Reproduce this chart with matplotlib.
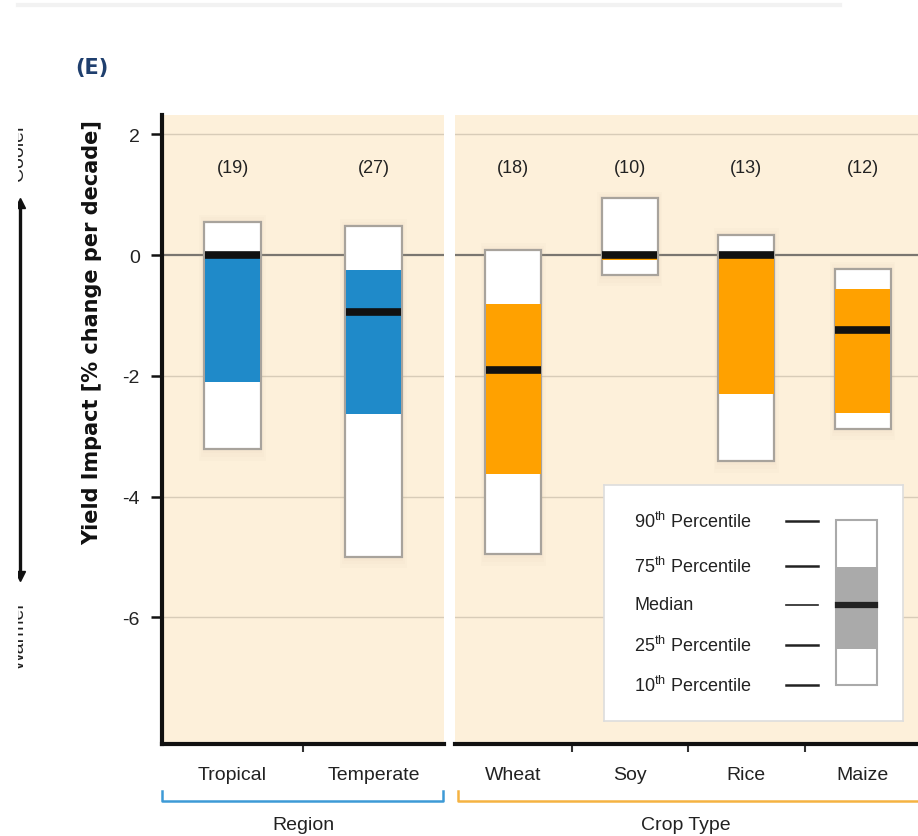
import matplotlib
matplotlib.use('Agg')
import matplotlib.pyplot as plt
from matplotlib.patches import Rectangle
from matplotlib.transforms import Bbox

plt.rcParams['font.family'] = ['Liberation Sans', 'DejaVu Sans']
plt.rcParams['mathtext.fontset'] = 'custom'
plt.rcParams['mathtext.rm'] = 'Liberation Sans'

# region panel
region_names = ['Tropical', 'Temperate']
region_counts = [19, 27]
region_p10 = [-3.22, -5.0]
region_p25 = [-2.1, -2.64]
region_med = [0.0, -0.94]
region_p75 = [-0.03, -0.25]
region_p90 = [0.55, 0.48]

# crop panel
crop_names = ['Wheat', 'Soy', 'Rice', 'Maize']
crop_counts = [18, 10, 13, 12]
crop_p10 = [-4.96, -0.33, -3.42, -2.88]
crop_p25 = [-3.62, -0.09, -2.3, -2.61]
crop_med = [-1.9, 0.0, 0.0, -1.24]
crop_p75 = [-0.81, -0.03, -0.03, -0.56]
crop_p90 = [0.08, 0.94, 0.33, -0.23]

yticks = [2, 0, -2, -4, -6]

BG = '#fdf0da'
BLUE = '#1f8ac9'
ORANGE = '#ffa100'
W, H = 918, 837


def px_axes(fig, x0, x1, ytop, ybot):
    return fig.add_axes([x0 / W, (H - ybot) / H, (x1 - x0) / W, (ybot - ytop) / H])


def draw_panel(ax, names, counts, p10, p25, med, p75, p90, color, bw):
    n = len(names)
    ax.set_facecolor(BG)
    ax.set_xlim(-0.5, n - 0.5)
    ax.set_ylim(-8.1, 2.32)
    for y in yticks:
        if y == 0:
            ax.axhline(0, color='#7a7670', lw=1.6, zorder=1)
        else:
            ax.axhline(y, color='#d8ccb8', lw=1.0, zorder=1)
    for i in range(n):
        # soft glow behind each box
        for k in range(3):
            pad = 0.025 * (k + 1)
            ax.add_patch(Rectangle((i - bw / 2 - pad * 0.5, p10[i] - pad * 2.5),
                                   bw + pad, p90[i] - p10[i] + pad * 4,
                                   facecolor='#c8b493', edgecolor='none', alpha=0.04, zorder=2))
        ax.add_patch(Rectangle((i - bw / 2, p10[i]), bw, p90[i] - p10[i],
                               facecolor='white', edgecolor='#a8a39c', lw=1.6, zorder=3))
        ax.add_patch(Rectangle((i - bw / 2 + 0.005, p25[i]), bw - 0.01, p75[i] - p25[i],
                               facecolor=color, edgecolor='none', zorder=4))
        ax.hlines(med[i], i - bw / 2 + 0.005, i + bw / 2 - 0.005, color='#111111', lw=5.5, zorder=5)
        ax.text(i, 1.45, '(%d)' % counts[i], ha='center', va='center', fontsize=13, color='#222222')
    ax.set_xticks(range(n))
    ax.set_xticklabels(names, fontsize=14, color='#222222')
    ax.tick_params(axis='x', which='major', length=0, pad=16)
    ax.set_xticks([i + 0.5 for i in range(n - 1)], minor=True)
    ax.tick_params(axis='x', which='minor', length=6, width=1.5, color='#333333', direction='out')
    for s in ['top', 'right']:
        ax.spines[s].set_visible(False)
    ax.spines['bottom'].set_linewidth(3)
    ax.spines['bottom'].set_color('#111111')


fig = plt.figure(figsize=(W / 100, H / 100), dpi=100)

ax1 = px_axes(fig, 162, 444, 116, 745)
draw_panel(ax1, region_names, region_counts, region_p10, region_p25, region_med,
           region_p75, region_p90, BLUE, 0.4)
ax1.spines['left'].set_linewidth(3)
ax1.spines['left'].set_color('#111111')
ax1.set_yticks(yticks)
ax1.set_yticklabels([str(t) for t in yticks], fontsize=14, color='#222222')
ax1.tick_params(axis='y', length=8, width=1.8, color='#111111', pad=8)
ax1.set_ylabel('Yield Impact [% change per decade]', fontsize=15, fontweight='bold',
               family=['DejaVu Sans'], color='#111111')
ax1.yaxis.set_label_coords(-0.213, 0.655)

ax2 = px_axes(fig, 455, 921, 116, 745)
draw_panel(ax2, crop_names, crop_counts, crop_p10, crop_p25, crop_med,
           crop_p75, crop_p90, ORANGE, 0.48)
ax2.spines['left'].set_visible(False)
ax2.set_yticks([])

# brackets and group labels
def bracket(x0, x1, color):
    fig.add_artist(plt.Line2D([x0 / W, x0 / W, x1 / W, x1 / W],
                              [(H - 792) / H, (H - 802) / H, (H - 802) / H, (H - 792) / H],
                              color=color, lw=1.8))

bracket(162, 443, '#3d9ad6')
bracket(458, 925, '#f5b342')
fig.text(303 / W, 1 - 826 / H, 'Region', ha='center', va='center', fontsize=14, color='#222222')
fig.text(686 / W, 1 - 826 / H, 'Crop Type', ha='center', va='center', fontsize=14, color='#222222')

# panel letter
fig.text(92 / W, 1 - 68 / H, '(E)', ha='center', va='center', fontsize=15, fontweight='bold',
         color='#1f3f6e', family=['DejaVu Sans'])

# cooler / warmer arrow, cut off at the left edge like the source image
clip = Bbox.from_extents(18, 0, W, H)
arrow_parts = [
    plt.Line2D([20 / W, 20 / W], [1 - 206 / H, 1 - 574 / H], color='#111111', lw=2.4),
    plt.Line2D([20 / W], [1 - 204 / H], marker='^', color='#111111', markersize=7),
    plt.Line2D([20 / W], [1 - 577 / H], marker='v', color='#111111', markersize=7),
]
for art in arrow_parts:
    fig.add_artist(art)
    art.set_clip_box(clip)
    art.set_clip_on(True)
for label, yc in [('Cooler', 152), ('Warmer', 636)]:
    t = fig.text(19 / W, 1 - yc / H, label, rotation=90, ha='center', va='center',
                 fontsize=14, color='#222222')
    t.set_clip_box(clip)
    t.set_clip_on(True)

# faint top line
fig.add_artist(plt.Line2D([18 / W, 840 / W], [1 - 6 / H, 1 - 6 / H], color='#f2f2f2', lw=3))

# legend key
axl = px_axes(fig, 604, 903, 486, 722)
axl.set_xlim(0, 299)
axl.set_ylim(236, 0)
axl.set_facecolor('white')
for s in axl.spines.values():
    s.set_color('#dddddd')
    s.set_linewidth(1.2)
axl.set_xticks([])
axl.set_yticks([])
key_labels = ['90$^{\\mathrm{th}}$ Percentile', '75$^{\\mathrm{th}}$ Percentile', 'Median',
              '25$^{\\mathrm{th}}$ Percentile', '10$^{\\mathrm{th}}$ Percentile']
key_y = [36, 81, 120, 160, 200]
for lab, yy in zip(key_labels, key_y):
    axl.text(30, yy, lab, ha='left', va='center', fontsize=13, color='#222222')
    axl.plot([182, 214], [yy, yy], color='#222222', lw=1.8 if lab != 'Median' else 1.2)
axl.add_patch(Rectangle((232, 35), 41, 165, facecolor='white', edgecolor='#aaaaaa', lw=1.5))
axl.add_patch(Rectangle((233, 82), 39, 82, facecolor='#aaaaaa', edgecolor='none'))
axl.plot([234, 271], [120, 120], color='#222222', lw=4.5)

fig.savefig('out.png', dpi=100)
